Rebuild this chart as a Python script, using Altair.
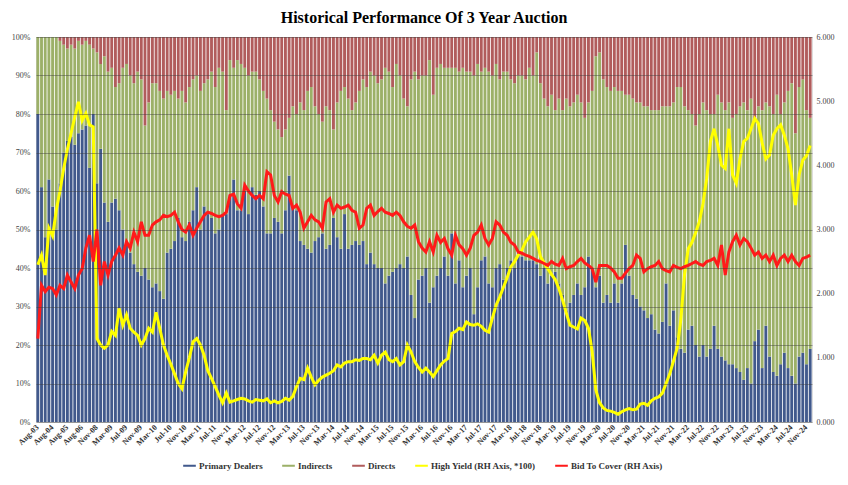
import altair as alt
import pandas as pd

# ---------------- categories ----------------
quarterly = ["Aug-03", "Nov-03", "Feb-04", "May-04", "Aug-04", "Nov-04", "Feb-05", "May-05",
             "Aug-05", "Nov-05", "Feb-06", "May-06", "Aug-06", "Nov-06", "Feb-07", "May-07"]
month_names = ["Jan", "Feb", "Mar", "Apr", "May", "Jun", "Jul", "Aug", "Sep", "Oct", "Nov", "Dec"]
monthly = ["Nov-08", "Dec-08"] + [f"{m}-{y:02d}" for y in range(9, 25) for m in month_names]
dates = quarterly + monthly
tick_labels = dates[::4]

series_names = ["Primary Dealers", "Indirects", "Directs",
                "High Yield (RH Axis, *100)", "Bid To Cover (RH Axis)"]
series_colors = ["#41598C", "#9CB068", "#B15C5C", "#FFFF00", "#FF1A1A"]

# ---------------- values ----------------
primary_dealers = [
    80, 61, 48, 63, 56, 50, 62, 70, 73, 74,
    72, 75, 76, 77, 66, 80, 62, 71, 57, 52,
    57, 58, 55, 50, 46, 44, 41, 39, 38, 40,
    37, 35, 36, 34, 32, 44, 45, 47, 53, 48,
    47, 52, 55, 61, 50, 56, 54, 53, 49, 50,
    54, 54, 59, 63, 55, 55, 60, 54, 61, 59,
    60, 56, 49, 49, 53, 52, 49, 55, 64, 56,
    55, 47, 46, 45, 44, 47, 48, 49, 45, 46,
    53, 48, 45, 54, 45, 46, 47, 46, 47, 41,
    44, 41, 40, 40, 36, 38, 39, 40, 41, 40,
    43, 33, 27, 37, 38, 40, 31, 35, 38, 40,
    43, 38, 49, 36, 42, 35, 38, 40, 28, 35,
    42, 43, 36, 35, 40, 41, 37, 40, 42, 40,
    44, 43, 42, 42, 42, 41, 38, 40, 36, 38,
    39, 36, 33, 29, 31, 33, 36, 33, 35, 43,
    40, 35, 38, 31, 33, 31, 36, 31, 36, 46,
    38, 33, 32, 30, 29, 27, 28, 24, 23, 26,
    36, 25, 29, 22, 19, 18, 24, 25, 20, 17,
    20, 17, 19, 25, 19, 17, 16, 15, 15, 14,
    13, 11, 14, 10, 21, 24, 14, 25, 17, 13,
    12, 15, 18, 14, 12, 10, 17, 18, 15, 19,
]

directs = [
    0, 0, 0, 0, 0, 0, 1, 2, 3, 2,
    3, 1, 2, 1, 2, 3, 4, 7, 5, 9,
    8, 13, 12, 8, 7, 10, 12, 9, 11, 23,
    17, 12, 12, 14, 16, 14, 15, 14, 16, 14,
    17, 13, 11, 10, 14, 12, 11, 9, 13, 8,
    9, 19, 6, 8, 6, 7, 8, 10, 9, 9,
    11, 14, 16, 19, 22, 24, 26, 24, 21, 18,
    20, 17, 19, 14, 13, 18, 20, 22, 18, 19,
    24, 17, 14, 13, 16, 19, 17, 14, 11, 13,
    9, 10, 12, 11, 8, 9, 13, 7, 10, 16,
    18, 11, 9, 11, 10, 10, 6, 15, 8, 7,
    8, 8, 8, 8, 9, 8, 9, 9, 10, 7,
    9, 8, 9, 10, 7, 11, 9, 9, 11, 12,
    10, 10, 11, 8, 10, 4, 12, 16, 18, 15,
    19, 16, 19, 16, 18, 17, 15, 17, 21, 17,
    14, 5, 4, 11, 13, 14, 13, 14, 14, 15,
    15, 16, 17, 17, 18, 18, 19, 19, 19, 18,
    18, 18, 17, 13, 13, 18, 19, 20, 23, 20,
    17, 19, 20, 20, 15, 17, 19, 17, 21, 20,
    18, 17, 19, 16, 22, 18, 19, 17, 18, 20,
    15, 20, 17, 14, 12, 25, 13, 11, 19, 21,
]

high_yield = [
    2.45, 2.60, 2.29, 3.02, 2.90, 3.30, 3.60, 3.95, 4.25, 4.50,
    4.75, 4.99, 4.70, 4.81, 4.63, 4.60, 1.30, 1.20, 1.15, 1.20,
    1.41, 1.35, 1.77, 1.51, 1.67, 1.46, 1.40, 1.35, 1.20, 1.30,
    1.46, 1.40, 1.71, 1.46, 1.20, 1.04, 0.90, 0.75, 0.60, 0.52,
    0.78, 1.00, 1.25, 1.30, 1.20, 1.04, 0.80, 0.68, 0.55, 0.42,
    0.30, 0.45, 0.31, 0.33, 0.35, 0.37, 0.36, 0.33, 0.31, 0.35,
    0.34, 0.33, 0.36, 0.30, 0.33, 0.30, 0.32, 0.37, 0.34, 0.40,
    0.55, 0.68, 0.66, 0.84, 0.70, 0.58, 0.65, 0.70, 0.73, 0.76,
    0.80, 0.89, 0.86, 0.92, 0.94, 0.94, 0.97, 0.96, 0.99, 0.99,
    0.97, 1.04, 0.92, 1.04, 1.09, 0.97, 0.94, 0.99, 0.89, 0.94,
    1.20, 1.09, 0.94, 0.85, 0.78, 0.84, 0.78, 0.71, 0.80, 0.89,
    0.95, 0.99, 1.38, 1.41, 1.46, 1.44, 1.56, 1.52, 1.51, 1.53,
    1.49, 1.43, 1.40, 1.62, 1.82, 1.95, 2.10, 2.25, 2.42, 2.50,
    2.60, 2.68, 2.81, 2.88, 2.96, 2.85, 2.58, 2.48, 2.39, 2.30,
    2.22, 2.08, 1.90, 1.70, 1.51, 1.48, 1.45, 1.62, 1.58, 1.46,
    1.10, 0.50, 0.30, 0.22, 0.18, 0.17, 0.15, 0.12, 0.16, 0.19,
    0.21, 0.19, 0.20, 0.28, 0.29, 0.26, 0.33, 0.37, 0.39, 0.45,
    0.60, 0.75, 0.95, 1.15, 1.60, 2.30, 2.70, 2.80, 2.95, 3.12,
    3.40, 3.80, 4.37, 4.57, 4.31, 4.00, 3.95, 4.57, 3.85, 3.72,
    4.10, 4.37, 4.42, 4.57, 4.73, 4.65, 4.35, 4.10, 4.16, 4.47,
    4.57, 4.63, 4.47, 4.26, 3.85, 3.38, 3.85, 4.08, 4.15, 4.31,
]

bid_to_cover = [
    1.30, 2.13, 2.03, 2.10, 2.08, 1.98, 2.13, 2.08, 2.29, 2.18,
    2.08, 2.29, 2.39, 2.71, 2.91, 2.50, 3.00, 2.13, 2.50, 2.29,
    2.50, 2.60, 2.71, 2.60, 2.81, 2.71, 2.96, 2.81, 3.12, 2.91,
    2.91, 3.07, 3.12, 3.15, 3.22, 3.20, 3.22, 3.27, 3.12, 3.00,
    2.96, 3.07, 2.91, 3.02, 3.12, 3.22, 3.27, 3.25, 3.22, 3.20,
    3.22, 3.27, 3.53, 3.55, 3.40, 3.33, 3.69, 3.60, 3.53, 3.48,
    3.53, 3.48, 3.90, 3.85, 3.53, 3.43, 3.59, 3.55, 3.53, 3.33,
    3.38, 3.27, 3.02, 3.12, 3.22, 3.15, 3.12, 3.02, 3.43, 3.48,
    3.27, 3.38, 3.33, 3.35, 3.38, 3.30, 3.27, 3.02, 3.07, 3.33,
    3.38, 3.22, 3.28, 3.33, 3.27, 3.25, 3.22, 3.27, 3.22, 3.12,
    3.05, 3.02, 3.07, 2.81, 2.71, 2.65, 2.81, 2.65, 2.91, 2.80,
    2.86, 2.70, 2.60, 2.91, 2.76, 2.70, 2.60, 2.71, 2.91, 2.96,
    3.07, 2.86, 2.76, 2.86, 3.12, 3.07, 2.96, 2.91, 2.80, 2.76,
    2.65, 2.63, 2.60, 2.58, 2.55, 2.52, 2.50, 2.47, 2.44, 2.50,
    2.46, 2.44, 2.55, 2.39, 2.42, 2.44, 2.50, 2.55, 2.48, 2.44,
    2.39, 2.18, 2.44, 2.44, 2.44, 2.40, 2.34, 2.24, 2.24, 2.32,
    2.39, 2.44, 2.60, 2.55, 2.34, 2.39, 2.42, 2.44, 2.50, 2.39,
    2.36, 2.34, 2.44, 2.41, 2.39, 2.42, 2.44, 2.47, 2.50, 2.46,
    2.44, 2.50, 2.52, 2.55, 2.44, 2.76, 2.29, 2.65, 2.81, 2.91,
    2.76, 2.86, 2.81, 2.71, 2.60, 2.65, 2.55, 2.60, 2.50, 2.60,
    2.44, 2.55, 2.60, 2.50, 2.60, 2.50, 2.44, 2.55, 2.57, 2.60,
]

# ---------------- tables ----------------
bar_rows = []
for d, pd_v, dir_v in zip(dates, primary_dealers, directs):
    bar_rows.append({"date": d, "series": series_names[0], "value": pd_v, "order": 0})
    bar_rows.append({"date": d, "series": series_names[1], "value": 100 - pd_v - dir_v, "order": 1})
    bar_rows.append({"date": d, "series": series_names[2], "value": dir_v, "order": 2})
bars_df = pd.DataFrame(bar_rows)

yield_df = pd.DataFrame({"date": dates, "value": high_yield, "series": series_names[3]})
btc_df = pd.DataFrame({"date": dates, "value": bid_to_cover, "series": series_names[4]})

FONT = "Liberation Serif"
color_scale = alt.Scale(domain=series_names, range=series_colors)

x_enc = alt.X(
    "date:N",
    sort=dates,
    scale=alt.Scale(paddingInner=0.22, paddingOuter=0.1),
    axis=alt.Axis(values=tick_labels, labelAngle=-45, labelAlign="right", labelBaseline="middle",
                  labelFont=FONT, labelFontSize=8, labelFontWeight="bold", labelColor="#333333",
                  ticks=False, domain=False, title=None, labelPadding=4, grid=False),
)

bars = alt.Chart(bars_df).mark_bar().encode(
    x=x_enc,
    y=alt.Y("value:Q", stack="zero",
            scale=alt.Scale(domain=[0, 100], nice=False),
            axis=alt.Axis(values=list(range(0, 101, 10)), labelExpr="datum.value + '%'",
                          grid=True, gridColor="#3a3a3a", gridOpacity=0.55, gridWidth=0.8,
                          zindex=1, ticks=False, domain=False, title=None,
                          labelFont=FONT, labelFontSize=8, labelColor="#444444", labelPadding=6)),
    color=alt.Color("series:N", scale=color_scale,
                    legend=alt.Legend(orient="none", legendX=147, legendY=422, direction="horizontal",
                                      title=None, symbolType="M-1,-0.16L1,-0.16L1,0.16L-1,0.16Z",
                                      symbolSize=160, symbolStrokeWidth=0,
                                      labelFont=FONT, labelFontSize=9, labelFontWeight="bold",
                                      labelColor="#333333", columnPadding=19, labelOffset=3)),
    order=alt.Order("order:Q"),
)

right_axis = alt.Axis(orient="right", values=[0, 1, 2, 3, 4, 5, 6], format=".3f", grid=False,
                      ticks=False, domain=False, title=None, labelFont=FONT, labelFontSize=8,
                      labelColor="#444444", labelPadding=4)

yield_line = alt.Chart(yield_df).mark_line(strokeWidth=3).encode(
    x=x_enc,
    y=alt.Y("value:Q", scale=alt.Scale(domain=[0, 6], nice=False), axis=right_axis),
    color=alt.Color("series:N", scale=color_scale, legend=None),
)

btc_line = alt.Chart(btc_df).mark_line(strokeWidth=3).encode(
    x=x_enc,
    y=alt.Y("value:Q", scale=alt.Scale(domain=[0, 6], nice=False), axis=right_axis),
    color=alt.Color("series:N", scale=color_scale, legend=None),
)

lines = alt.layer(yield_line, btc_line)

chart = alt.layer(bars, lines).resolve_scale(y="independent").properties(
    width=776,
    height=385,
    title=alt.Title("Historical Performance Of 3 Year Auction", font=FONT, fontSize=16,
                    fontWeight="bold", color="#000000", anchor="middle", offset=7),
    autosize=alt.AutoSizeParams(type="none"),
    padding={"left": 36, "top": 37, "right": 36, "bottom": 63},
).configure_view(stroke=None).configure(background="#ffffff")

chart.save("out.html", embed_options={"renderer": "svg", "actions": False})
